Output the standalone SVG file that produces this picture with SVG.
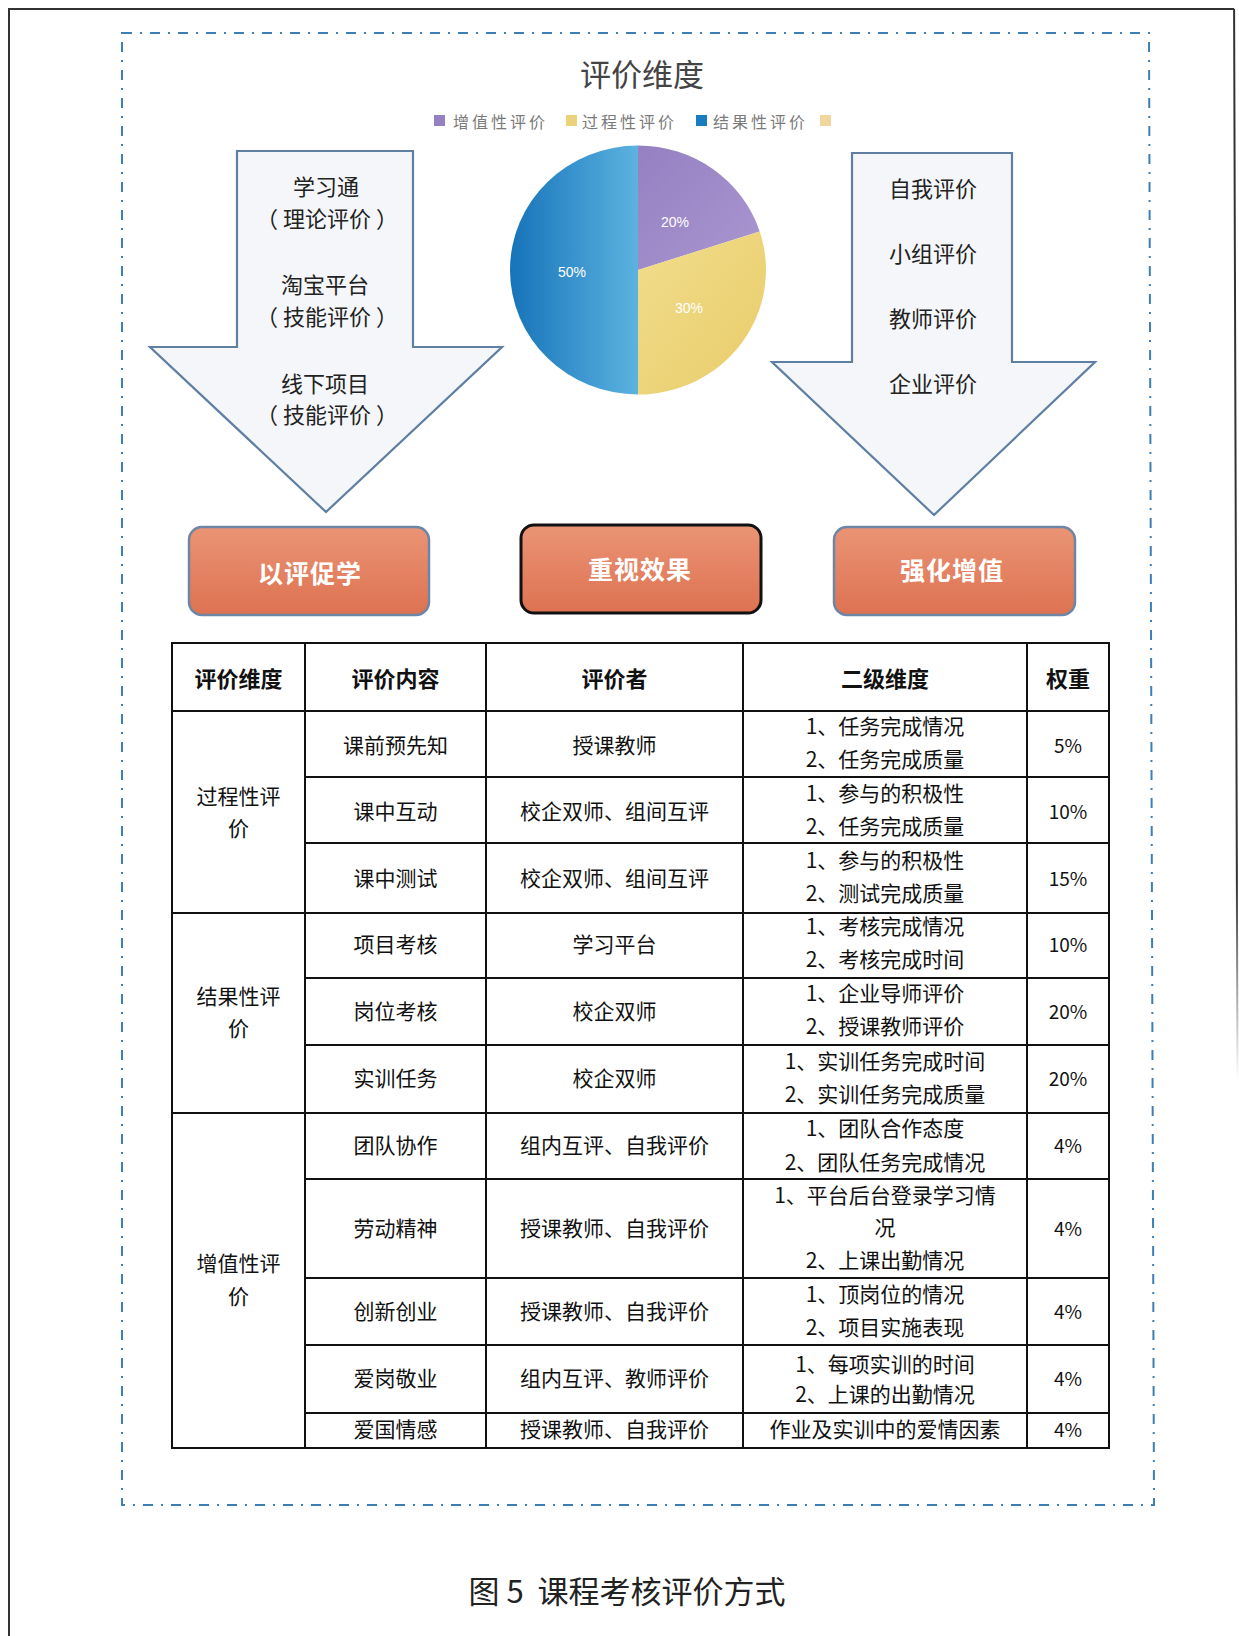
<svg xmlns="http://www.w3.org/2000/svg" width="1239" height="1636" viewBox="0 0 1239 1636">
<style>
.cjk{font-family:"Noto Sans CJK SC","Noto Sans",sans-serif}
.arrow{fill:#f4f6f9;stroke:#5f7fa3;stroke-width:2.2;stroke-linejoin:miter}
.atxt{font-family:"Noto Sans CJK SC",sans-serif;font-size:22px;fill:#222;text-anchor:middle;dominant-baseline:central;white-space:pre}
.box{fill:url(#og);stroke:#6d86a6;stroke-width:2.5}
.btxt{font-family:"Noto Sans CJK SC",serif;font-size:25px;font-weight:700;fill:#fff;text-anchor:middle;dominant-baseline:central;letter-spacing:1px}
.leg{font-family:"Noto Sans CJK SC",sans-serif;font-size:16px;fill:#7a7a7a;letter-spacing:3px;dominant-baseline:central}
.pl{font-family:"Liberation Sans",sans-serif;font-size:14px;fill:#fff;text-anchor:middle;dominant-baseline:central}
.grid{stroke:#111;stroke-width:2;fill:none}
.th{font-family:"Noto Sans CJK SC",sans-serif;font-size:22px;font-weight:700;fill:#111;text-anchor:middle;dominant-baseline:central}
.td{font-family:"Noto Sans CJK SC",sans-serif;font-size:21px;fill:#111;text-anchor:middle;dominant-baseline:central}
.pc{font-family:"Noto Sans CJK SC",sans-serif;font-size:19px;fill:#111;text-anchor:middle;dominant-baseline:central}
</style>
<defs>
<linearGradient id="og" x1="0" y1="0" x2="0" y2="1">
<stop offset="0" stop-color="#ea9475"/>
<stop offset="1" stop-color="#dd7251"/>
</linearGradient>
<linearGradient id="bg" x1="0" y1="0" x2="1" y2="0">
<stop offset="0" stop-color="#1673b9"/>
<stop offset="1" stop-color="#5cb3e0"/>
</linearGradient>
<linearGradient id="pg" x1="0" y1="0" x2="1" y2="1">
<stop offset="0" stop-color="#9580c2"/>
<stop offset="1" stop-color="#aa96d0"/>
</linearGradient>
<linearGradient id="yg" x1="0" y1="0" x2="1" y2="1">
<stop offset="0" stop-color="#f1dd8c"/>
<stop offset="1" stop-color="#e9cc6a"/>
</linearGradient>
<linearGradient id="fade" gradientUnits="userSpaceOnUse" x1="0" y1="880" x2="0" y2="1080">
<stop offset="0" stop-color="#333" stop-opacity="1"/>
<stop offset="1" stop-color="#333" stop-opacity="0"/>
</linearGradient>
</defs>
<rect x="0" y="0" width="1239" height="1636" fill="#fff"/>
<g id="page-frame">
<path d="M9,1636 L9,9 L1234,9" fill="none" stroke="#333" stroke-width="2"/>
<path d="M1234,9 L1234.1,9.5 L1237.5,1080" fill="none" stroke="url(#fade)" stroke-width="2"/>
<path d="M122,33 L1149,33 L1154,1505 L122,1505 Z" fill="none" stroke="#3d7fb5" stroke-width="2" stroke-dasharray="10 8 2 8"/>
</g>
<g id="title">
<text x="642" y="72" class="cjk" font-size="31" fill="#444" text-anchor="middle" dominant-baseline="central">评价维度</text>
</g>
<g id="legend">
<rect x="434" y="115" width="11" height="11" fill="#9580c2"/>
<text x="453" y="120.5" class="leg">增值性评价</text>
<rect x="566" y="115" width="11" height="11" fill="#ecd27a"/>
<text x="582" y="120.5" class="leg">过程性评价</text>
<rect x="696" y="115" width="11" height="11" fill="#1a7cc0"/>
<text x="713" y="120.5" class="leg">结果性评价</text>
<rect x="820" y="115" width="11" height="11" fill="#f2d6a0"/>
</g>
<g id="pie">
<path d="M638,270 L638,145.5 A128,124.5 0 0 1 759.7,231.5 Z" fill="url(#pg)"/>
<path d="M638,270 L759.7,231.5 A128,124.5 0 0 1 638,394.5 Z" fill="url(#yg)"/>
<path d="M638,270 L638,394.5 A128,124.5 0 0 1 510,270 A128,124.5 0 0 1 638,145.5 Z" fill="url(#bg)"/>
<text x="675" y="222" class="pl">20%</text>
<text x="689" y="308" class="pl">30%</text>
<text x="572" y="272" class="pl">50%</text>
</g>
<g id="arrow-left">
<path class="arrow" d="M237,151 L413,151 L413,347 L502,347 L326,512 L150,347 L237,347 Z"/>
<text x="326" y="185" class="atxt">学习通</text>
<text x="327" y="217" class="atxt">（ 理论评价 ）</text>
<text x="325" y="283" class="atxt">淘宝平台</text>
<text x="327" y="315" class="atxt">（ 技能评价 ）</text>
<text x="325" y="382" class="atxt">线下项目</text>
<text x="327" y="413" class="atxt">（ 技能评价 ）</text>
</g>
<g id="arrow-right">
<path class="arrow" d="M852,153 L1012,153 L1012,362 L1095,362 L934,515 L772,362 L852,362 Z"/>
<text x="933" y="187" class="atxt">自我评价</text>
<text x="933" y="252" class="atxt">小组评价</text>
<text x="933" y="317" class="atxt">教师评价</text>
<text x="933" y="382" class="atxt">企业评价</text>
</g>
<g id="box-left">
<rect class="box" x="189" y="527" width="240" height="88" rx="13"/>
<text x="310" y="572" class="btxt">以评促学</text>
</g>
<g id="box-center">
<rect class="box" x="521" y="525" width="240" height="88" rx="13" style="stroke:#111;stroke-width:3"/>
<text x="640" y="568" class="btxt">重视效果</text>
</g>
<g id="box-right">
<rect class="box" x="834" y="527" width="241" height="88" rx="13"/>
<text x="952" y="569" class="btxt">强化增值</text>
</g>
<g id="connectors"></g>
<g id="table">
<g class="grid">
<rect x="172" y="643" width="937" height="805"/>
<line x1="305" y1="643" x2="305" y2="1448"/>
<line x1="486" y1="643" x2="486" y2="1448"/>
<line x1="743" y1="643" x2="743" y2="1448"/>
<line x1="1027" y1="643" x2="1027" y2="1448"/>
<line x1="172" y1="711" x2="1109" y2="711"/>
<line x1="305" y1="777" x2="1109" y2="777"/>
<line x1="305" y1="843" x2="1109" y2="843"/>
<line x1="172" y1="913" x2="1109" y2="913"/>
<line x1="305" y1="978" x2="1109" y2="978"/>
<line x1="305" y1="1045" x2="1109" y2="1045"/>
<line x1="172" y1="1113" x2="1109" y2="1113"/>
<line x1="305" y1="1179" x2="1109" y2="1179"/>
<line x1="305" y1="1278" x2="1109" y2="1278"/>
<line x1="305" y1="1345" x2="1109" y2="1345"/>
<line x1="305" y1="1413" x2="1109" y2="1413"/>
</g>
<text x="238.5" y="677" class="th">评价维度</text>
<text x="395.5" y="677" class="th">评价内容</text>
<text x="614.5" y="677" class="th">评价者</text>
<text x="885" y="677" class="th">二级维度</text>
<text x="1068" y="677" class="th">权重</text>
<text x="238.5" y="795" class="td">过程性评</text>
<text x="238.5" y="827" class="td">价</text>
<text x="238.5" y="995" class="td">结果性评</text>
<text x="238.5" y="1027" class="td">价</text>
<text x="238.5" y="1262" class="td">增值性评</text>
<text x="238.5" y="1295" class="td">价</text>
<text x="395.5" y="744" class="td">课前预先知</text>
<text x="614.5" y="744" class="td">授课教师</text>
<text x="885" y="725" class="td">1、任务完成情况</text>
<text x="885" y="758" class="td">2、任务完成质量</text>
<text x="1068" y="744" class="pc">5%</text>
<text x="395.5" y="810" class="td">课中互动</text>
<text x="614.5" y="810" class="td">校企双师、组间互评</text>
<text x="885" y="792" class="td">1、参与的积极性</text>
<text x="885" y="825" class="td">2、任务完成质量</text>
<text x="1068" y="810" class="pc">10%</text>
<text x="395.5" y="877" class="td">课中测试</text>
<text x="614.5" y="877" class="td">校企双师、组间互评</text>
<text x="885" y="859" class="td">1、参与的积极性</text>
<text x="885" y="892" class="td">2、测试完成质量</text>
<text x="1068" y="877" class="pc">15%</text>
<text x="395.5" y="943" class="td">项目考核</text>
<text x="614.5" y="943" class="td">学习平台</text>
<text x="885" y="925" class="td">1、考核完成情况</text>
<text x="885" y="958" class="td">2、考核完成时间</text>
<text x="1068" y="943" class="pc">10%</text>
<text x="395.5" y="1010" class="td">岗位考核</text>
<text x="614.5" y="1010" class="td">校企双师</text>
<text x="885" y="992" class="td">1、企业导师评价</text>
<text x="885" y="1025" class="td">2、授课教师评价</text>
<text x="1068" y="1010" class="pc">20%</text>
<text x="395.5" y="1077" class="td">实训任务</text>
<text x="614.5" y="1077" class="td">校企双师</text>
<text x="885" y="1060" class="td">1、实训任务完成时间</text>
<text x="885" y="1093" class="td">2、实训任务完成质量</text>
<text x="1068" y="1077" class="pc">20%</text>
<text x="395.5" y="1144" class="td">团队协作</text>
<text x="614.5" y="1144" class="td">组内互评、自我评价</text>
<text x="885" y="1127" class="td">1、团队合作态度</text>
<text x="885" y="1161" class="td">2、团队任务完成情况</text>
<text x="1068" y="1144" class="pc">4%</text>
<text x="395.5" y="1227" class="td">劳动精神</text>
<text x="614.5" y="1227" class="td">授课教师、自我评价</text>
<text x="885" y="1194" class="td">1、平台后台登录学习情</text>
<text x="885" y="1226" class="td">况</text>
<text x="885" y="1259" class="td">2、上课出勤情况</text>
<text x="1068" y="1227" class="pc">4%</text>
<text x="395.5" y="1310" class="td">创新创业</text>
<text x="614.5" y="1310" class="td">授课教师、自我评价</text>
<text x="885" y="1293" class="td">1、顶岗位的情况</text>
<text x="885" y="1326" class="td">2、项目实施表现</text>
<text x="1068" y="1310" class="pc">4%</text>
<text x="395.5" y="1377" class="td">爱岗敬业</text>
<text x="614.5" y="1377" class="td">组内互评、教师评价</text>
<text x="885" y="1363" class="td">1、每项实训的时间</text>
<text x="885" y="1393" class="td">2、上课的出勤情况</text>
<text x="1068" y="1377" class="pc">4%</text>
<text x="395.5" y="1428" class="td">爱国情感</text>
<text x="614.5" y="1428" class="td">授课教师、自我评价</text>
<text x="885" y="1428" class="td">作业及实训中的爱情因素</text>
<text x="1068" y="1428" class="pc">4%</text>
</g>
<g id="caption">
<text x="627" y="1589" class="cjk" font-size="31" fill="#222" text-anchor="middle" dominant-baseline="central" style="white-space:pre">图 5  课程考核评价方式</text>
</g>
</svg>
